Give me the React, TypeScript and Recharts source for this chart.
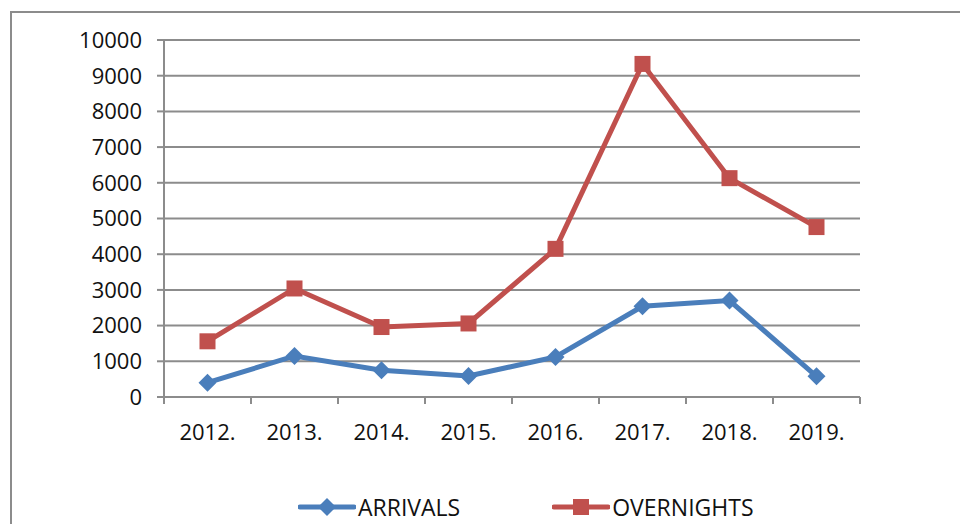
import React from 'react';
import { LineChart, Line, XAxis, YAxis, CartesianGrid } from 'recharts';

const years = ['2012.', '2013.', '2014.', '2015.', '2016.', '2017.', '2018.', '2019.'];
const arrivals = [400, 1150, 750, 590, 1120, 2540, 2700, 580];
const overnights = [1560, 3040, 1960, 2060, 4150, 9330, 6130, 4760];
const yTicks = [0, 1000, 2000, 3000, 4000, 5000, 6000, 7000, 8000, 9000, 10000];

const BLUE = '#4a7ebb';
const RED = '#c0504d';
const GRID = '#8c8c8c';
const FONT = '"Open Sans", sans-serif';

const data = years.map((year, i) => ({
    year,
    arrivals: arrivals[i],
    overnights: overnights[i],
}));

const HALF_BAND = 43.5;

const XTick = (props: any) => {
    const { x, y, payload, index } = props;
    const last = index === years.length - 1;
    return (
        <g>
            <line x1={x - HALF_BAND} x2={x - HALF_BAND} y1={y - 8} y2={y - 1} stroke={GRID} strokeWidth={2} />
            {last && <line x1={x + HALF_BAND} x2={x + HALF_BAND} y1={y - 8} y2={y - 1} stroke={GRID} strokeWidth={2} />}
            <text x={x} y={y + 35} textAnchor="middle" fontSize={22} fontFamily={FONT} fill="#111">
                {payload.value}
            </text>
        </g>
    );
};

const Diamond = (props: any) => {
    const { cx, cy } = props;
    if (cx == null || cy == null) return null;
    const r = 9;
    return <polygon points={`${cx},${cy - r} ${cx + r},${cy} ${cx},${cy + r} ${cx - r},${cy}`} fill={BLUE} />;
};

const Square = (props: any) => {
    const { cx, cy } = props;
    if (cx == null || cy == null) return null;
    const s = 16;
    return <rect x={cx - s / 2} y={cy - s / 2} width={s} height={s} fill={RED} />;
};

const LegendItem = ({ color, label, marker }: { color: string; label: string; marker: 'diamond' | 'square' }) => (
    <div style={{ display: 'flex', alignItems: 'center' }}>
        <svg width={58} height={20}>
            <line x1={2} x2={56} y1={10} y2={10} stroke={color} strokeWidth={5} strokeLinecap="round" />
            {marker === 'diamond'
                ? <polygon points="29,1 38,10 29,19 20,10" fill={color} />
                : <rect x={21} y={2} width={16} height={16} fill={color} />}
        </svg>
        <span style={{ marginLeft: 2, fontSize: 23, fontFamily: FONT, color: '#111' }}>{label}</span>
    </div>
);

export default function App() {
    return (
        <div style={{ position: 'absolute', left: 0, top: 0, width: 960, height: 524, overflow: 'hidden', background: '#fff' }}>
            <div style={{ position: 'absolute', left: 10, top: 11, width: 1000, height: 600, borderLeft: `2px solid ${GRID}`, borderTop: `2px solid ${GRID}` }} />
            <div style={{ position: 'absolute', left: 0, top: 0 }}>
                <LineChart width={960} height={524} data={data} margin={{ top: 40, right: 100, bottom: 87, left: 0 }}>
                    <CartesianGrid vertical={false} stroke={GRID} strokeWidth={2} />
                    <XAxis
                        dataKey="year"
                        height={40}
                        padding={{ left: HALF_BAND, right: HALF_BAND }}
                        axisLine={{ stroke: GRID, strokeWidth: 2 }}
                        tickLine={false}
                        tick={<XTick />}
                        interval={0}
                    />
                    <YAxis
                        width={164}
                        domain={[0, 10000]}
                        ticks={yTicks}
                        interval={0}
                        axisLine={{ stroke: GRID, strokeWidth: 2 }}
                        tickLine={{ stroke: GRID, strokeWidth: 2 }}
                        tickSize={7}
                        tickMargin={15}
                        tick={{ fontSize: 22, fontFamily: FONT, fill: '#111' }}
                    />
                    <Line dataKey="arrivals" name="ARRIVALS" stroke={BLUE} strokeWidth={5} dot={<Diamond />} activeDot={false} isAnimationActive={false} />
                    <Line dataKey="overnights" name="OVERNIGHTS" stroke={RED} strokeWidth={5} dot={<Square />} activeDot={false} isAnimationActive={false} />
                </LineChart>
            </div>
            <div style={{ position: 'absolute', left: 298, top: 491, display: 'flex', gap: 92 }}>
                <LegendItem color={BLUE} label="ARRIVALS" marker="diamond" />
                <LegendItem color={RED} label="OVERNIGHTS" marker="square" />
            </div>
        </div>
    );
}
